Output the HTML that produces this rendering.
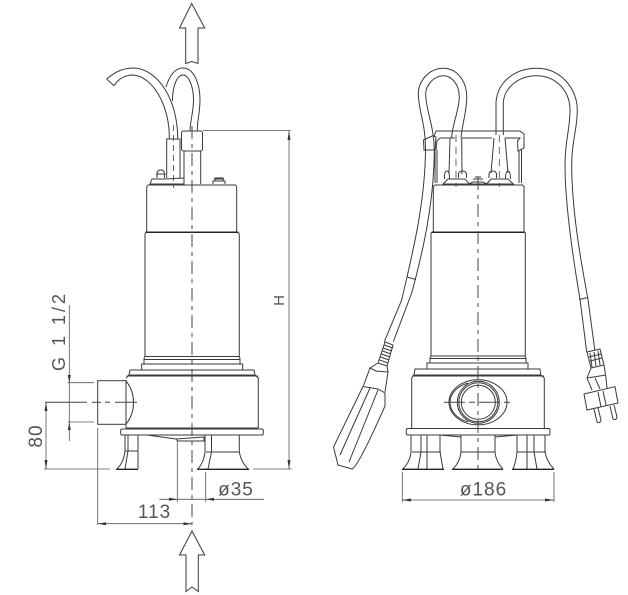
<!DOCTYPE html>
<html><head><meta charset="utf-8"><style>
html,body{margin:0;padding:0;background:#fff}
svg{display:block}
text{font-family:"Liberation Sans",sans-serif;fill:#555}
.l{fill:none;stroke:#3a3a3a;stroke-width:1}
.w{fill:#fff;stroke:#3a3a3a;stroke-width:1}
.t{fill:none;stroke:#555;stroke-width:.8}
.c{fill:none;stroke:#444;stroke-width:1;stroke-dasharray:13 5 4 5}
.a{fill:#333;stroke:none}
</style></head><body>
<svg width="628" height="595" viewBox="0 0 628 595" xmlns="http://www.w3.org/2000/svg">
<!-- flow arrows -->
<path class="l" d="M191.7 3.5L179.5 28H185.7V63.5L191.7 61.5L198 63.5V28H204.7Z"/>
<path class="l" d="M192 531L179.5 555H186V591.5L192 587L198.3 591.5V555H204.7Z"/>

<!-- LEFT PUMP -->
<!-- cables -->
<path class="l" d="M166 87C170 74 176 68 183 68C194 68 200 84 200 100C200 112 197 122 197.3 131"/>
<path class="l" d="M172.5 101C172.5 86 177 75 183 75C189 75 193.5 87 193.5 100C193.5 112 190 122 190 131"/>
<path class="l" d="M106.7 79C116 71 124 68 134 68C158 69 178 100 177.7 139"/>
<path class="l" d="M114 85.7C119 78 125 75 133 75C152 76 170 105 169.3 139"/>
<path class="l" d="M106.7 79L114 85.7"/>
<path class="l" d="M166.7 178V139H180V178"/>
<path class="l" d="M184 184V151M200.7 184V151"/>
<rect class="w" x="181.5" y="131" width="21" height="20" rx="2"/>
<path class="l" d="M150 184L152 179H165L184 178V184Z"/>
<path class="l" d="M157 178V174Q157 170 160.7 170Q164.5 170 164.5 174V178M156 174H165.500"/>
<path class="l" d="M213 184V181H225V184M215 181V178H223V181M214 179H224"/>
<!-- body -->
<path class="l" d="M146.700 232V187L148 185H235.500L236.700 187V232"/>
<path class="l" d="M145 356.500V234L146 232H238L239.300 234V356.500" style="stroke-width:1"/>
<path d="M146 232.300H238" style="stroke:#222;stroke-width:1.300"/>
<path class="l" d="M144 364V358.500L145 356.500H239L240 358.500V364M144 359.500H240"/>
<path class="l" d="M141.700 370V364H242.700V370"/>
<path class="l" d="M129 375L130 370H254L255 375M126.500 376H258"/>
<path class="l" d="M126 378L129 375H255L258.300 378V428"/>
<path class="l" d="M126 380V428"/>
<rect class="l" x="120.700" y="429" width="142.600" height="6" rx="1.500"/>
<path class="l" d="M126 428H258"/>
<!-- legs -->
<path class="l" d="M125 435V451Q124 462 117 469M138 435V469M128 435V451L125 469M125 451H138"/>
<path class="l" d="M205 435V452Q204 462 198 469M239.300 435V452Q241 462 248 469M211.500 435V452L208 469M206 452H239"/>
<path d="M116 469.300H138M197 469.300H249" style="stroke:#222;stroke-width:1.300;fill:none"/>
<!-- chute -->
<path class="l" d="M147 435L176 439L204 437M176 439L177.300 441H204V437"/>
<!-- nozzle -->
<rect class="w" x="97.700" y="380.700" width="28.300" height="43.600"/>
<path class="l" d="M126 381C131 387 133.500 394 133.500 402.500C133.500 411 131 418 126 424"/>
<!-- centre lines -->
<path class="c" d="M192 126V525"/>
<path class="c" d="M173.500 125V188" style="stroke-dasharray:6 4;stroke-width:.8"/>
<path class="c" d="M45 402.300H137" style="stroke-dasharray:42 5 9 4 5 5"/>
<!-- dims left -->
<path class="t" d="M203 130.500H291M253 469H291.700M289 131V469"/>
<path class="a" d="M289 131L287.500 140H290.500ZM289 469L287.500 460H290.500Z"/>
<path class="t" d="M69.300 305V441M67.700 382.700H94M67.700 422H94"/>
<path class="a" d="M69.300 382.700L67.800 375H70.800ZM69.300 422L67.800 430H70.800Z"/>
<path class="t" d="M46 402.300V469M44 469H110"/>
<path class="a" d="M46 402.300L44.500 411H47.500ZM46 469L44.500 460H47.500Z"/>
<path class="t" d="M97.700 428V525M97.700 523.700H192"/>
<path class="a" d="M97.700 523.700L106 522.200V525.200ZM192 523.700L183.500 522.200V525.200Z"/>
<path class="t" d="M177.300 441V502M205.700 472V502M159.300 499.300H264"/>
<path class="a" d="M177.300 499.300L169 497.800V500.800ZM205.700 499.300L214 497.800V500.800Z"/>
<text x="154.500" y="518" font-size="19" text-anchor="middle" letter-spacing="1">113</text>
<text x="236" y="495.500" font-size="19" text-anchor="middle" letter-spacing="1">&#248;35</text>
<text transform="translate(284 300.500) rotate(-90)" font-size="15" text-anchor="middle">H</text>
<text transform="translate(65 371) rotate(-90)" font-size="18" letter-spacing="3">G 1 1/2</text>
<text transform="translate(42 436) rotate(-90)" font-size="19" text-anchor="middle" letter-spacing="1">80</text>

<!-- RIGHT PUMP -->
<!-- cables -->
<path class="l" d="M461 138C462 125 466.700 112 466.700 97C466.700 80 456 68.300 443.300 68.300C430 68.300 418.300 80 418.300 94C418.300 110 426 125 425.500 150C425 205 412 255 401.700 300L384.300 341.700"/>
<path class="l" d="M451.700 138C452 125 459.300 110 459.300 97C459.300 85 452 75.700 443.300 75.700C434 75.700 425.700 85 425.700 94C425.700 110 434 125 434.300 150C434 205 422 255 411.700 293L393.300 341.700"/>
<path class="l" d="M496 135V103C497 82 515 68.300 536.700 68.300C560 68.300 577.300 88 577.300 110C577.300 130 571.700 140 571.700 165C571.700 210 581 262 588 299.300L595 351.700"/>
<path class="l" d="M503.300 135V103C504 88 518 75.700 536.700 75.700C555 75.700 570 90 570 110C570 130 565 140 565 165C565 205 573 258 580 299.300L586.700 351.700"/>
<path class="l" d="M579 299.500L588 297.500M407 277L416 279.500"/>
<!-- bracket -->
<path class="l" d="M434 137L436 131H520L524 134V148L518 151L517.500 141L520 138H505M492 138H462M450 138H440L437 141L436 150"/>
<path class="l" d="M423.500 140L433 135.500L436 137L435 150H424Z"/>
<path class="l" d="M435 150V183M437 150V183M519 151V183M521.500 149V183"/>
<!-- sleeves, bolts -->
<path class="l" d="M450 138L449 174M461.700 138L462 174M494 138L491 173M505 138L508 173M455 138H450"/>
<path class="l" d="M443 184L448 179H465L469.300 184ZM486.700 184L491 179H508L513.300 184ZM469 184L473 182H483L486.700 184Z"/>
<path class="l" d="M444.500 179V175Q445 171 447 171Q449.500 171 449.500 179M458.500 178V174Q459 171 462.500 171Q466 171 466.500 174V178M489 178V174Q489.500 171 492.700 171Q496 171 496.500 174V178M505.500 179Q505.500 171 508 171Q510.500 171 510.500 179"/>
<path class="l" d="M473 179H483M475 177H481"/>
<path class="c" d="M456 135V187M499.300 135V187" style="stroke-dasharray:7 5;stroke-width:.8"/>
<!-- body -->
<path class="l" d="M433.300 232V186.500L435 185H522.500L524 186.500V232"/>
<path class="l" d="M431 355.700V233L432 232H524.500L525.300 233V355.700"/>
<path d="M432 232.300H525" style="stroke:#222;stroke-width:1.300"/>
<path class="l" d="M430 363V358L431 356H525L526 358V363M430 358.500H526"/>
<path class="l" d="M427 369V363H528V369"/>
<path class="l" d="M414 375L415 369H540L540.700 375"/>
<path class="l" d="M411.700 428V378L414 375H541L544.300 378V428M412 376H544"/>
<rect class="l" x="406.300" y="428.500" width="143.700" height="6.500" rx="1.500"/>
<!-- hole -->
<ellipse class="l" cx="478" cy="402.300" rx="29" ry="22.500"/>
<circle class="l" cx="478.300" cy="402.300" r="21"/>
<circle class="l" cx="478.300" cy="402.300" r="19.500"/>
<circle class="l" cx="478.300" cy="402.300" r="17"/>
<path class="l" d="M450 402.300C450 393 458 386 468 383M450 402.300C450 412 458 419 468 422"/>
<path class="c" d="M444 402.300H512.700" style="stroke-dasharray:21 4 6 4"/>
<!-- legs -->
<path class="l" d="M411 435V452Q410 462 403 469M440 435V452L443 469M421 435V452L418 469M427 435V469M412 452H441"/>
<path class="l" d="M461 435V452Q460 462 453 469M495 435V452Q496 462 503 469M461 452H495"/>
<path class="l" d="M517 435V452Q516 462 513 469M545 435V452Q547 462 554 469M527 435V469M534 435V452L537 469M517 452H546"/>
<path class="l" d="M440 435L461 437M495 437L517 435"/>
<path d="M402 469.300H444M452 469.300H503M512 469.300H554" style="stroke:#222;stroke-width:1.300;fill:none"/>
<path class="c" d="M478 177V473"/>
<!-- dim -->
<path class="t" d="M402.300 472V502M554 472V502M402.300 500H554"/>
<path class="a" d="M402.300 500L411 498.500V501.500ZM554 500L545 498.500V501.500Z"/>
<text x="483.500" y="495.500" font-size="19" text-anchor="middle" letter-spacing="1">&#248;186</text>
<!-- float -->
<path class="w" d="M385 342L393 345L387 366L378 363Z"/>
<path class="l" d="M384 345L393 348M383 348L392 351M382.500 351L391 354M381.500 354L390 357M380.500 357L389 360M379.500 360L388 363"/>
<path class="l" d="M378 363L370 368L363 387M387 366L388 372L385 392"/>
<path class="l" d="M370 368L376 371L388 372"/>
<path class="w" d="M363 386.500L333.500 447L338 465L352 469Q358 467 385 406L385 393L378 389L363 386.500Z"/>
<path class="l" d="M370 388L340 455M378 390L349 462"/>
<!-- plug -->
<path class="w" d="M587 352L600 349L604 365L591 368Z"/>
<path class="l" d="M590 353L592 367M594 352L596 366M598 351L600 365M589 357L601 354M590 361L602 358"/>
<path class="l" d="M591 368L587 378L592 390M604 365L606 378L607 388M587 378L606 375M595 378L600 389"/>
<path class="w" d="M584 394L615 386.700L618 403L587 410Z"/>
<path class="l" d="M594 409L597 422Q600 424 601 420L598 408M610 406L613 419Q616 421 617 417L614 405"/>
<path class="l" d="M598 392L601 407M603 391L606 405"/>
</svg>
</body></html>
